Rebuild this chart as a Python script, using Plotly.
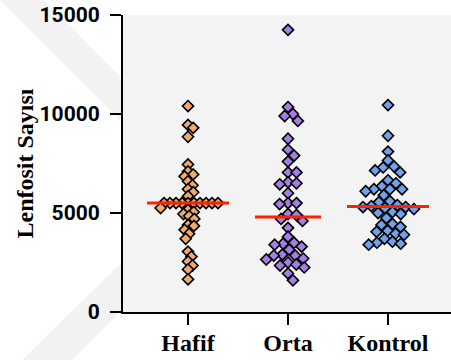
import numpy as np
import plotly.graph_objects as go

# Lymphocyte counts per group
groups = ["Hafif", "Orta", "Kontrol"]
hafif = [10400, 9450, 9300, 8850, 7450, 7100, 6950, 6850, 6600, 6400, 6200, 6050, 5850,
         5500, 5500, 5500, 5500, 5500, 5500, 5500, 5500, 5500, 5500,
         5250, 5150, 5050, 4950, 4850, 4700, 4400, 4350, 4150, 3950, 3700,
         3050, 2800, 2550, 2350, 2150, 1650]
orta = [14250, 10350, 10000, 9900, 9650, 8750, 8200, 7900, 7600, 7050, 7050, 6550, 6500,
        6450, 6000, 5500, 5500, 5450, 4950, 4900, 4700, 4600, 4250, 3800, 3500, 3450,
        3400, 3300, 3150, 2900, 2850, 2850, 2700, 2650, 2500, 2400, 2350, 2250, 1950, 1600]
kontrol = [10450, 8900, 8100, 7650, 7350, 7300, 7150, 7050, 6650, 6500, 6350, 6200, 6200,
           6200, 6100, 5900, 5600, 5550, 5400, 5350, 5300, 5300, 5250, 5200, 5050, 5000,
           4950, 4750, 4450, 4400, 4300, 4100, 4050, 3950, 3900, 3700, 3550, 3500, 3450, 3400]
y_ticks = [0, 5000, 10000, 15000]
y_title = "Lenfosit Sayısı"

series = [hafif, orta, kontrol]
fills = ["#EFAA6E", "#A47DE6", "#6FA2EC"]
spacing = [6.0, 8.5, 8.5]          # min distance between symbol centres, px
median_half = [0.41, 0.33, 0.41]   # half length of the median bar, category units

W, H = 451, 360
ML, MR, MT, MB = 123, 0, 15, 48
plot_w = W - ML - MR
plot_h = H - MT - MB
Y_MAX = 15000
X_RANGE = [-0.65, -0.65 + plot_w / 100.0]
px_x = plot_w / (X_RANGE[1] - X_RANGE[0])
px_y = plot_h / Y_MAX


def swarm(values, d):
    """Beeswarm offsets in px: each point goes to the free spot nearest the centre."""
    vals = np.asarray(values, float)
    ys = vals * px_y
    order = np.argsort(-vals, kind="stable")
    placed = []
    xs = np.zeros(len(vals))
    for i in order:
        y = ys[i]
        near = [(py, px) for py, px in placed if abs(py - y) < d]
        cands = [0.0]
        for py, px in near:
            dx = np.sqrt(d * d - (py - y) ** 2)
            cands += [px + dx, px - dx]
        valid = [c for c in cands
                 if all((px - c) ** 2 + (py - y) ** 2 >= d * d - 1e-6 for py, px in near)]
        bal = sum(np.sign(px) for _, px in near)
        best = min(valid, key=lambda c: (round(abs(c), 4), c * bal, -c))
        xs[i] = best
        placed.append((y, best))
    return xs


fig = go.Figure()

for k, (vals, col, d) in enumerate(zip(series, fills, spacing)):
    off = swarm(vals, d) / px_x
    fig.add_trace(go.Scatter(
        x=k + off, y=vals, mode="markers", showlegend=False, hoverinfo="y",
        marker=dict(symbol="diamond", size=8.5, color=col,
                    line=dict(color="black", width=1.6)),
    ))

for k, vals in enumerate(series):
    med = float(np.median(vals))
    fig.add_trace(go.Scatter(
        x=[k - median_half[k], k + median_half[k]], y=[med, med], mode="lines",
        showlegend=False, hoverinfo="skip",
        line=dict(color="#FF2200", width=3),
    ))


# faint diagonal bands in the left margin
def band(pts, color):
    path = "M " + " L ".join(
        f"{(x - ML) / plot_w:.4f},{(H - MB - y) / plot_h:.4f}" for x, y in pts) + " Z"
    return dict(type="path", xref="paper", yref="paper", path=path,
                fillcolor=color, line=dict(width=0), layer="below")


shapes = [
    band([(0, 0), (44, 0), (121, 77), (121, 121)], "rgba(0,0,0,0.05)"),
    band([(22, 360), (72, 360), (121, 311), (121, 263)], "rgba(0,0,0,0.05)"),
]

# rotated y-axis title, placed in the left margin
fig.add_annotation(
    text=y_title, xref="paper", yref="paper",
    x=(24 - ML) / plot_w, y=0.5, xanchor="center", yanchor="middle",
    textangle=-90, showarrow=False,
    font=dict(family="Liberation Serif", size=24, color="black", weight="bold"),
)

fig.update_layout(
    width=W, height=H,
    margin=dict(l=ML, r=MR, t=MT, b=MB, autoexpand=False),
    paper_bgcolor="white",
    plot_bgcolor="#F3F3F3",
    shapes=shapes,
    xaxis=dict(
        range=X_RANGE, tickvals=[0, 1, 2], ticktext=groups,
        showline=True, linecolor="black", linewidth=2,
        ticks="outside", ticklen=11, tickwidth=2, tickcolor="black",
        ticklabelstandoff=-3,
        tickfont=dict(family="Liberation Serif", size=24, color="black", weight="bold"),
        showgrid=False, zeroline=False, fixedrange=True,
    ),
    yaxis=dict(
        range=[0, Y_MAX], tickvals=y_ticks, ticktext=[str(v) for v in y_ticks],
        showline=True, linecolor="black", linewidth=2,
        ticks="outside", ticklen=11, tickwidth=2, tickcolor="black",
        ticklabelstandoff=6,
        tickfont=dict(family="Roboto", size=21, color="black", weight="bold"),
        showgrid=False, zeroline=False, fixedrange=True,
    ),
)

fig.write_html("out.html")
